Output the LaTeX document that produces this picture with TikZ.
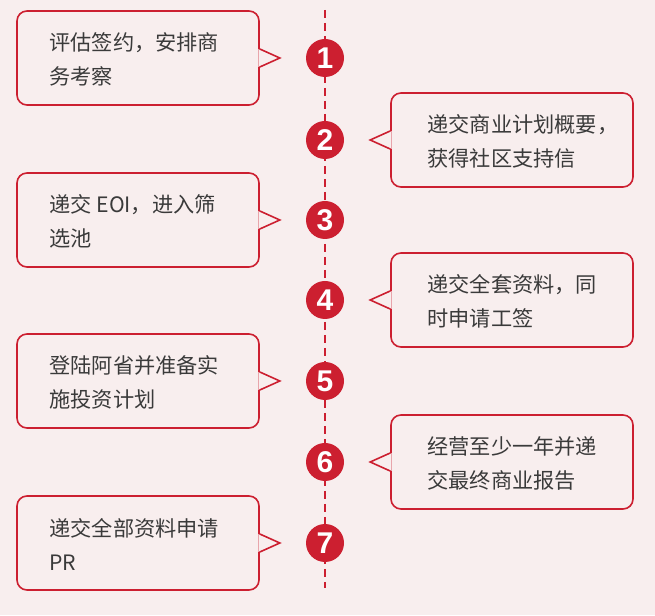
\documentclass[tikz,border=0pt]{standalone}
\usepackage{fontspec}
\setmainfont{Noto Sans CJK SC}
\newfontfamily\numfont{Liberation Sans}
\definecolor{tlred}{HTML}{CC1F30}
\definecolor{bgpink}{HTML}{F8EEEE}
\definecolor{txtgray}{HTML}{3A3A3A}
\tikzset{
  stepbox/.style={draw=tlred,line width=1.6pt,rounded corners=10pt,fill=bgpink,
    minimum width=242pt,minimum height=94pt,inner sep=0pt},
  steptext/.style={anchor=west,align=left,inner sep=0pt,text=txtgray,
    font=\fontsize{21.2}{34}\selectfont},
  stepnum/.style={circle,fill=tlred,minimum size=38pt,inner sep=0pt,text=white,
    font=\numfont\bfseries\fontsize{30}{30}\selectfont},
  ptrfill/.style={fill=bgpink},
  ptrline/.style={draw=tlred,line width=1.6pt,line join=miter},
}
\begin{document}
\begin{tikzpicture}[x=1pt,y=1pt]
\useasboundingbox (0,0) rectangle (655,615);
\fill[bgpink] (0,0) rectangle (655,615);
% timeline
\coordinate (top) at (325,605);
\coordinate (bot) at (325,27);
\draw[tlred,line width=2pt,dash pattern=on 8pt off 5pt] (top)--(bot);
% steps
\node[stepnum](n1) at (325,557){1};
\node[stepnum](n2) at (325,475){2};
\node[stepnum](n3) at (325,395){3};
\node[stepnum](n4) at (325,315){4};
\node[stepnum](n5) at (325,234){5};
\node[stepnum](n6) at (325,153){6};
\node[stepnum](n7) at (325,72){7};
% boxes, left
\node[stepbox](b1) at (138,557){};
\node[stepbox](b3) at (138,395){};
\node[stepbox](b5) at (138,234){};
\node[stepbox](b7) at (138,72){};
% boxes, right
\node[stepbox](b2) at (512,475){};
\node[stepbox](b4) at (512,315){};
\node[stepbox](b6) at (512,153){};
% pointers
\foreach \b in {b1,b3,b5,b7}{
  \fill[ptrfill]([xshift=-1.5pt,yshift=9pt]\b.east)--++(21.5,-9)--([xshift=-1.5pt,yshift=-9pt]\b.east)--cycle;
  \draw[ptrline]([yshift=9pt]\b.east)--++(20,-9)--([yshift=-9pt]\b.east);
}
\foreach \b in {b2,b4,b6}{
  \fill[ptrfill]([xshift=1.5pt,yshift=9pt]\b.west)--++(-21.5,-9)--([xshift=1.5pt,yshift=-9pt]\b.west)--cycle;
  \draw[ptrline]([yshift=9pt]\b.west)--++(-20,-9)--([yshift=-9pt]\b.west);
}
% texts
\node[steptext](t1) at ([xshift=33pt,yshift=-1pt]b1.west){评估签约，安排商\\务考察};
\node[steptext](t2) at ([xshift=37pt,yshift=-1pt]b2.west){递交商业计划概要，\\获得社区支持信};
\node[steptext](t3) at ([xshift=33pt,yshift=-1pt]b3.west){递交 EOI，进入筛\\选池};
\node[steptext](t4) at ([xshift=37pt,yshift=-1pt]b4.west){递交全套资料，同\\时申请工签};
\node[steptext](t5) at ([xshift=33pt,yshift=-1pt]b5.west){登陆阿省并准备实\\施投资计划};
\node[steptext](t6) at ([xshift=37pt,yshift=-1pt]b6.west){经营至少一年并递\\交最终商业报告};
\node[steptext](t7) at ([xshift=33pt,yshift=-1pt]b7.west){递交全部资料申请\\PR};
\end{tikzpicture}
\end{document}
